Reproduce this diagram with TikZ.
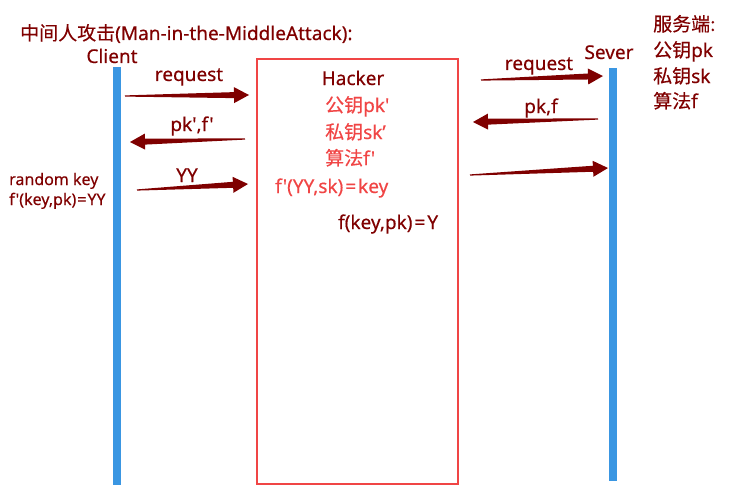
\documentclass[tikz,border=0pt]{standalone}
\usepackage{fontspec}
\setmainfont{Noto Sans}[Ligatures=TeXOff,FakeBold=0.4]
\newfontfamily\cjk{Noto Sans CJK SC}[FakeBold=0.3]
\usetikzlibrary{calc}
\definecolor{darkred}{HTML}{7F0000}
\definecolor{hred}{HTML}{F04545}
\definecolor{barblue}{HTML}{3A96E2}
\newcommand\eqsp{\kern2pt=\kern2pt}
\tikzset{
  txt/.style={inner sep=0pt, anchor=base west, font=\fontsize{19}{22}\selectfont},
  smalltxt/.style={txt, font=\fontsize{16}{19}\selectfont},
  lbl/.style={inner sep=0pt, anchor=base, font=\fontsize{19}{22}\selectfont, text=darkred},
  lifebar/.style={fill=barblue, draw=none},
  arr/.style={fill=darkred, draw=none},
}
\newcommand\taper[2]{%
  \coordinate (hb) at ($(#2)!15pt!(#1)$);
  \fill[arr] ($(#1)!0.6pt!90:(#2)$) -- ($(hb)!3pt!90:(#2)$) -- ($(hb)!8pt!90:(#2)$) -- (#2)
    -- ($(hb)!8pt!-90:(#2)$) -- ($(hb)!3pt!-90:(#2)$) -- ($(#1)!0.6pt!-90:(#2)$) -- cycle;
}
\begin{document}
\begin{tikzpicture}[x=1pt,y=-1pt]
\useasboundingbox (0,0) rectangle (744,495);
% title
\node[txt, text=darkred] (title) at (20,40) {{\cjk 中间人攻击}(Man-in-the-MiddleAttack):};
% client
\node[lbl] (client) at (112,63) {Client};
\fill[lifebar] (113,67) rectangle (121,485);
% server
\node[lbl] (sever) at (609,59) {Sever};
\fill[lifebar] (609,68) rectangle (617,481);
% server info
\node[txt, text=darkred] (srv1) at (653,31) {\cjk 服务端:};
\node[txt, text=darkred] (srv2) at (653,57) {{\cjk 公钥}pk};
\node[txt, text=darkred] (srv3) at (653,83) {{\cjk 私钥}sk};
\node[txt, text=darkred] (srv4) at (653,108) {{\cjk 算法}f};
% hacker box
\draw[hred, line width=2pt] (257,59) rectangle (458,484);
\node[lbl] (hacker) at (353,85) {Hacker};
\node[txt, text=hred] (h1) at (325,112) {{\cjk 公钥}pk'};
\node[txt, text=hred] (h2) at (325,139) {{\cjk 私钥}sk’};
\node[txt, text=hred] (h3) at (325,165) {{\cjk 算法}f'};
\node[txt, text=hred] (h4) at (275,193) {f'(YY,sk)\eqsp key};
\node[txt, text=darkred] (h5) at (338,229) {f(key,pk)\eqsp Y};
% client notes
\node[smalltxt, text=darkred] (c1) at (9,185) {random key};
\node[smalltxt, text=darkred] (c2) at (9,205) {f'(key,pk)\kern1pt=\kern1pt YY};
% arrows
\coordinate (a1s) at (125,96); \coordinate (a1e) at (249,95);
\coordinate (a2s) at (245,139); \coordinate (a2e) at (130,142);
\coordinate (a3s) at (137,190); \coordinate (a3e) at (248,184);
\coordinate (a4s) at (481,80); \coordinate (a4e) at (603,76);
\coordinate (a5s) at (598,119); \coordinate (a5e) at (473,122);
\coordinate (a6s) at (470,175); \coordinate (a6e) at (608,168);
\taper{a1s}{a1e}
\taper{a2s}{a2e}
\taper{a3s}{a3e}
\taper{a4s}{a4e}
\taper{a5s}{a5e}
\taper{a6s}{a6e}
\node[lbl] (l1) at (189,81) {request};
\node[lbl] (l2) at (192,131) {pk',f'};
\node[lbl] (l3) at (187,182) {YY};
\node[lbl] (l4) at (539,70) {request};
\node[lbl] (l5) at (541,113) {pk,f};
\end{tikzpicture}
\end{document}
